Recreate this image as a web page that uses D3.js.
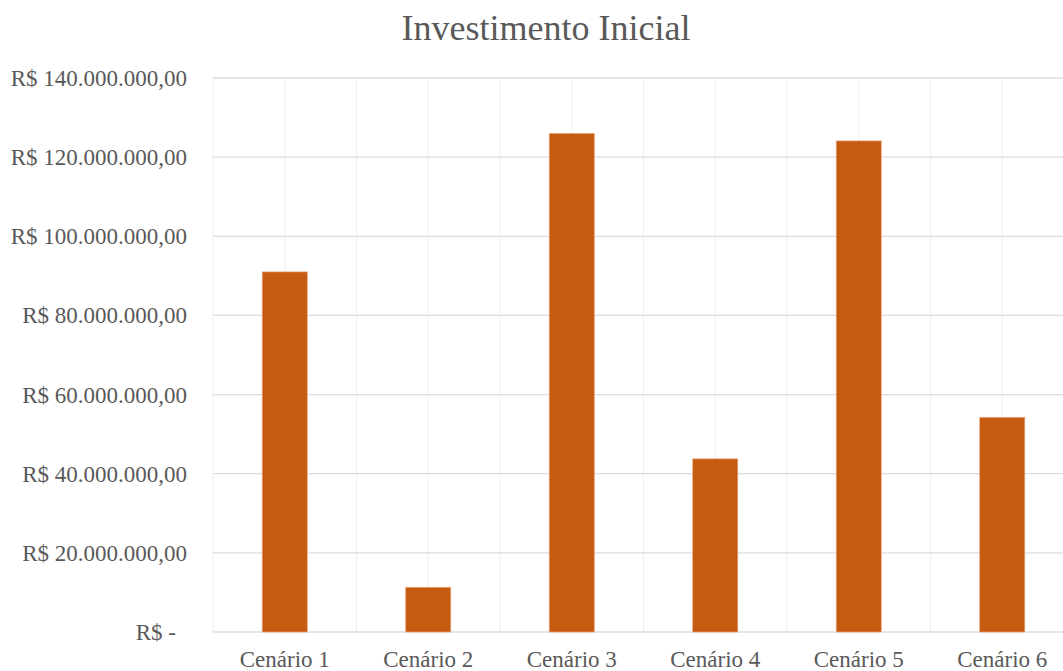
<html>
<head>
    <title>Investimento Inicial</title>
    <script src='https://d3js.org/d3.v7.min.js'></script>
    <style>
        body { margin: 0; background: #fff; overflow: hidden; }
        text { font-family: "Liberation Serif", "Times New Roman", serif; fill: #595959; }
    </style>
</head>
<body>
    <svg id="chart"></svg>
    <script>
        // dados
        var cenarios = ["Cenário 1", "Cenário 2", "Cenário 3", "Cenário 4", "Cenário 5", "Cenário 6"];
        var investimento = [91000000, 11300000, 126000000, 43750000, 124100000, 54250000];
        var yTicks = [0, 20000000, 40000000, 60000000, 80000000, 100000000, 120000000, 140000000];
        var yTickLabels = ["R$ -", "R$ 20.000.000,00", "R$ 40.000.000,00", "R$ 60.000.000,00",
            "R$ 80.000.000,00", "R$ 100.000.000,00", "R$ 120.000.000,00", "R$ 140.000.000,00"];

        var W = 1063, H = 671;
        var plotLeft = 213, plotRight = 1074, plotTop = 78, plotBottom = 632;

        var svg = d3.select("#chart").attr("width", W).attr("height", H);

        var y = d3.scaleLinear().domain([0, 140000000]).range([plotBottom, plotTop]);
        var xGrid = d3.scaleBand().domain(cenarios).range([plotLeft, plotRight]).padding(0);
        var x = d3.scaleBand().domain(cenarios).range([plotLeft, plotRight])
            .paddingInner(0.686).paddingOuter(0.343);

        // linhas verticais (limites e centros das categorias)
        var vLines = [];
        cenarios.forEach(function (c) {
            vLines.push(xGrid(c));
            vLines.push(xGrid(c) + xGrid.bandwidth() / 2);
        });
        vLines.push(plotRight);
        svg.append("g").selectAll("line").data(vLines).enter().append("line")
            .attr("x1", function (d) { return d; }).attr("x2", function (d) { return d; })
            .attr("y1", plotTop).attr("y2", plotBottom)
            .attr("stroke", "#f0f0f0").attr("stroke-width", 1);

        // linhas horizontais
        svg.append("g").selectAll("line").data(yTicks).enter().append("line")
            .attr("x1", plotLeft).attr("x2", plotRight)
            .attr("y1", function (d) { return y(d); }).attr("y2", function (d) { return y(d); })
            .attr("stroke", "#dcdcdc").attr("stroke-width", 1.3);

        // barras
        svg.append("g").selectAll("rect").data(investimento).enter().append("rect")
            .attr("x", function (d, i) { return x(cenarios[i]); })
            .attr("width", x.bandwidth())
            .attr("y", function (d) { return y(d); })
            .attr("height", function (d) { return plotBottom - y(d); })
            .attr("fill", "#c55a11")
            .attr("stroke", "#e9a67a").attr("stroke-width", 0.7);

        // rótulos eixo Y
        svg.append("g").selectAll("text").data(yTicks).enter().append("text")
            .attr("x", function (d, i) { return i === 0 ? 176 : 187; })
            .attr("y", function (d) { return y(d); })
            .attr("dy", "0.35em")
            .attr("text-anchor", "end")
            .style("font-size", "23px")
            .text(function (d, i) { return yTickLabels[i]; });

        // rótulos eixo X
        svg.append("g").selectAll("text").data(cenarios).enter().append("text")
            .attr("x", function (d) { return x(d) + x.bandwidth() / 2; })
            .attr("y", 667)
            .attr("text-anchor", "middle")
            .style("font-size", "23px")
            .text(function (d) { return d; });

        // título
        svg.append("text")
            .attr("x", 546).attr("y", 40)
            .attr("text-anchor", "middle")
            .style("font-size", "36px")
            .text("Investimento Inicial");
    </script>
</body>
</html>
